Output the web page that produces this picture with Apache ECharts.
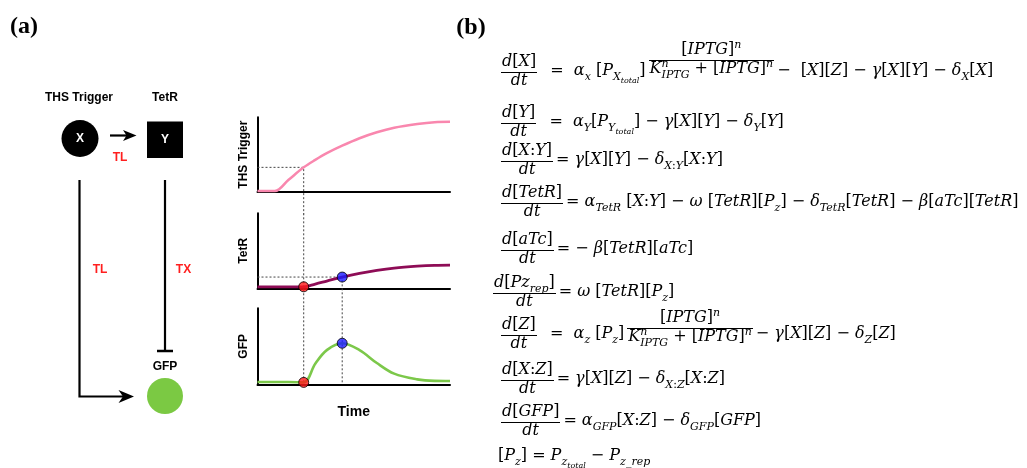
<!DOCTYPE html>
<html>
<head>
<meta charset="utf-8">
<script src="https://cdn.jsdelivr.net/npm/echarts@6.0.0/dist/echarts.min.js"></script>
<style>
  html, body { margin: 0; padding: 0; background: #fff; }
  #main { width: 1027px; height: 468px; }
</style>
</head>
<body>
<div id="main"></div>
<script>
// time course data (arbitrary units)
var timePoints = [0, 9, 16, 24, 30, 36, 44, 53, 62, 71, 83, 92, 100];
var thsLevel = [0.013, 0.013, 0.16, 0.33, 0.43, 0.52, 0.62, 0.72, 0.80, 0.86, 0.91, 0.935, 0.94];
var tetrLevel = [0.02, 0.02, 0.02, 0.02, 0.057, 0.097, 0.15, 0.20, 0.24, 0.27, 0.295, 0.307, 0.31];
var gfpLevel = [0.03, 0.03, 0.03, 0.025, 0.27, 0.45, 0.54, 0.45, 0.28, 0.14, 0.065, 0.045, 0.043];
var panelNames = ['THS Trigger', 'TetR', 'GFP'];
var onsetIdx = 3;   // red dots
var peakIdx = 6;    // blue dots

// model equations, left side fraction + right side pieces
var equations = [
  [['d[X]', 'dt'], '  =  α_x [P_{X_{total}}]', ['[IPTG]^n', 'K^n_{IPTG} + [IPTG]^n'], '−  [X][Z] − γ[X][Y] − δ_X[X]'],
  [['d[Y]', 'dt'], '  =  α_Y[P_{Y_{total}}] − γ[X][Y] − δ_Y[Y]'],
  [['d[X:Y]', 'dt'], '= γ[X][Y] − δ_{X:Y}[X:Y]'],
  [['d[TetR]', 'dt'], '= α_{TetR} [X:Y] − ω [TetR][P_z] − δ_{TetR}[TetR] − β[aTc][TetR]'],
  [['d[aTc]', 'dt'], '= − β[TetR][aTc]'],
  [['d[Pz_{rep}]', 'dt'], '= ω [TetR][P_z]'],
  [['d[Z]', 'dt'], '  =  α_z [P_z]', ['[IPTG]^n', 'K^n_{IPTG} + [IPTG]^n'], '− γ[X][Z] − δ_Z[Z]'],
  [['d[X:Z]', 'dt'], '= γ[X][Z] − δ_{X:Z}[X:Z]'],
  [['d[GFP]', 'dt'], '= α_{GFP}[X:Z] − δ_{GFP}[GFP]'],
  ['[P_z] = P_{z_{total}} − P_{z\\_rep}']
];
var eqAxisY = [72, 123, 161, 203, 250, 293, 335, 380, 422, 457];
var eqLeftX = [501, 501, 501, 501, 501, 493, 501, 501, 501, 498];
var fracRaise = { 0: 12, 6: 7 };

var MATH_FONT = '"DejaVu Serif", "Liberation Serif", serif';
var SANS = '"Liberation Sans", Arial, sans-serif';
var MAIN_SIZE = 16;

var ctx = document.createElement('canvas').getContext('2d');
function measure(text, size, italic) {
  ctx.font = (italic ? 'italic ' : '') + size + 'px ' + MATH_FONT;
  return ctx.measureText(text).width;
}
function isItalic(c) { return /[A-Za-z\u03b1-\u03c9\u0391-\u03a9]/.test(c); }

// lay out a tiny TeX-like string into runs {text,size,italic,x,dy}
function layoutMath(s, size, dy, x, out) {
  var i = 0;
  while (i < s.length) {
    var c = s[i];
    if (c === '_' || c === '^') {
      var start = x, maxX = x;
      while (i < s.length && (s[i] === '_' || s[i] === '^')) {
        var sub = s[i] === '_', arg;
        if (s[i + 1] === '{') {
          var depth = 1, j = i + 2;
          while (depth) { if (s[j] === '{') depth++; else if (s[j] === '}') depth--; j++; }
          arg = s.slice(i + 2, j - 1); i = j;
        } else { arg = s[i + 1]; i += 2; }
        var ns = Math.round(size * 0.7);
        var ex = layoutMath(arg, ns, dy + (sub ? size * 0.28 : -size * 0.42), start, out);
        maxX = Math.max(maxX, ex);
      }
      x = maxX;
      continue;
    }
    var text = '', it = isItalic(c === '\\' ? s[i + 1] : c);
    while (i < s.length && s[i] !== '_' && s[i] !== '^') {
      var ch = s[i];
      if (ch === '\\') { ch = s[i + 1]; if (isItalic(ch) !== it) break; text += ch; i += 2; continue; }
      if (isItalic(ch) !== it) break;
      text += ch; i++;
    }
    out.push({ text: text, size: size, italic: it, x: x, dy: dy });
    x += measure(text, size, it);
  }
  return x;
}

function runEl(run, x0, baseline) {
  return {
    type: 'text', silent: true,
    x: x0 + run.x, y: baseline + run.dy - 0.34 * run.size,
    style: {
      text: run.text, fontSize: run.size, fontStyle: run.italic ? 'italic' : 'normal',
      fontFamily: MATH_FONT, fill: '#000', align: 'left', verticalAlign: 'middle'
    }
  };
}

function buildEquations() {
  var els = [];
  equations.forEach(function (row, r) {
    var x = eqLeftX[r];
    var axisY = eqAxisY[r];
    var base = axisY + 4.5;
    row.forEach(function (part, p) {
      if (typeof part === 'string') {
        var runs = [];
        var end = layoutMath(part, MAIN_SIZE, 0, 0, runs);
        runs.forEach(function (rn) { els.push(runEl(rn, x, base)); });
        x += end;
      } else {
        var lhs = p === 0;
        var barY = Math.round(axisY - (lhs ? 0 : (fracRaise[r] || 0))) + 0.5;
        var numRuns = [], denRuns = [];
        var nw = layoutMath(part[0], MAIN_SIZE, 0, 0, numRuns);
        var dw = layoutMath(part[1], MAIN_SIZE, 0, 0, denRuns);
        var w = Math.max(nw, dw) + 2;
        if (!lhs) x += 3;
        numRuns.forEach(function (rn) { els.push(runEl(rn, x + (w - nw) / 2, barY - 5)); });
        denRuns.forEach(function (rn) { els.push(runEl(rn, x + (w - dw) / 2, barY + 14)); });
        els.push({ type: 'line', silent: true, shape: { x1: Math.round(x), y1: barY, x2: Math.round(x + w), y2: barY }, style: { stroke: '#000', lineWidth: 1 } });
        x += w + 3;
      }
    });
  });
  return els;
}

function label(text, x, y, size, color, family, weight) {
  return {
    type: 'text', silent: true, x: x, y: y,
    style: { text: text, fontSize: size, fontWeight: weight || 'bold', fontFamily: family || SANS, fill: color || '#000', align: 'center', verticalAlign: 'middle' }
  };
}

// schematic of panel (a)
var schematic = [
  label('(a)', 24, 27, 24, '#000', '"Liberation Serif", serif'),
  label('(b)', 471, 28, 24, '#000', '"Liberation Serif", serif'),
  label('THS Trigger', 79, 98, 12),
  label('TetR', 165, 98, 12),
  { type: 'circle', silent: true, shape: { cx: 80, cy: 138.5, r: 18.5 }, style: { fill: '#000' } },
  label('X', 80, 139, 12, '#fff'),
  { type: 'rect', silent: true, shape: { x: 147, y: 121.5, width: 36, height: 36.5 }, style: { fill: '#000' } },
  label('Y', 165, 140, 12, '#fff'),
  { type: 'line', silent: true, shape: { x1: 110, y1: 135.5, x2: 128, y2: 135.5 }, style: { stroke: '#000', lineWidth: 2.2 } },
  { type: 'polygon', silent: true, shape: { points: [[136.5, 135.5], [123, 130], [126.5, 135.5], [123, 141]] }, style: { fill: '#000' } },
  label('TL', 120, 157.5, 12, '#ff1f1f'),
  { type: 'polyline', silent: true, shape: { points: [[79.5, 180], [79.5, 396.5], [126, 396.5]] }, style: { stroke: '#000', lineWidth: 2.2, fill: null } },
  { type: 'polygon', silent: true, shape: { points: [[134, 396.5], [118.5, 390], [123, 396.5], [118.5, 403]] }, style: { fill: '#000' } },
  label('TL', 100, 269.5, 12, '#ff1f1f'),
  { type: 'line', silent: true, shape: { x1: 165, y1: 180, x2: 165, y2: 351 }, style: { stroke: '#000', lineWidth: 2.2 } },
  { type: 'line', silent: true, shape: { x1: 157, y1: 351, x2: 173, y2: 351 }, style: { stroke: '#000', lineWidth: 2.5 } },
  label('TX', 183.5, 269.5, 12, '#ff1f1f'),
  label('GFP', 165, 367, 12),
  { type: 'circle', silent: true, shape: { cx: 165, cy: 396, r: 18 }, style: { fill: '#7bc943' } }
];

function pairs(xs, ys) { return xs.map(function (t, i) { return [t, ys[i]]; }); }

var grids = [
  { left: 257.5, width: 192.5, top: 117.3, height: 74.7 },
  { left: 257.5, width: 192.5, top: 213.3, height: 75 },
  { left: 257.5, width: 192.5, top: 308.3, height: 76 }
];

var tOn = timePoints[onsetIdx], tPk = timePoints[peakIdx];
var dotted = { color: '#444', width: 1, type: [2, 2] };
function guide(i, pts) {
  return { type: 'line', xAxisIndex: i, yAxisIndex: i, data: pts, symbol: 'none', silent: true, clip: false, z: 1, lineStyle: dotted };
}
function curve(i, ys, color, width) {
  return { type: 'line', xAxisIndex: i, yAxisIndex: i, data: pairs(timePoints, ys), symbol: 'none', smooth: 0.35, silent: true, z: 3, lineStyle: { color: color, width: width } };
}
function dots(i, ys) {
  return {
    type: 'scatter', xAxisIndex: i, yAxisIndex: i, symbolSize: 10, z: 5, silent: true,
    data: [
      { value: [tOn, ys[onsetIdx]], itemStyle: { color: '#ff1a1a', borderColor: '#000', borderWidth: 1 } },
      { value: [tPk, ys[peakIdx]], itemStyle: { color: '#1a1aff', borderColor: '#000', borderWidth: 1 } }
    ]
  };
}

var chart = echarts.init(document.getElementById('main'));
var option = {
  animation: false,
  backgroundColor: '#fff',
  grid: grids,
  xAxis: grids.map(function (g, i) {
    return {
      type: 'value', gridIndex: i, min: 0, max: 100,
      name: i === 2 ? 'Time' : '', nameLocation: 'middle', nameGap: 21,
      nameTextStyle: { fontFamily: SANS, fontWeight: 'bold', fontSize: 14, color: '#000' },
      axisLine: { lineStyle: { color: '#000', width: 2 } },
      axisTick: { show: false }, axisLabel: { show: false }, splitLine: { show: false }
    };
  }),
  yAxis: grids.map(function (g, i) {
    return {
      type: 'value', gridIndex: i, min: 0, max: 1,
      name: panelNames[i], nameLocation: 'middle', nameGap: 8,
      nameTextStyle: { fontFamily: SANS, fontWeight: 'bold', fontSize: 12, color: '#000' },
      axisLine: { show: true, lineStyle: { color: '#000', width: 2 } },
      axisTick: { show: false }, axisLabel: { show: false }, splitLine: { show: false }
    };
  }),
  series: [
    guide(0, [[0, thsLevel[onsetIdx]], [tOn, thsLevel[onsetIdx]], [tOn, -0.3]]),
    guide(1, [[tOn, 1], [tOn, -0.27]]),
    guide(1, [[0, tetrLevel[peakIdx]], [tPk, tetrLevel[peakIdx]], [tPk, -0.27]]),
    guide(2, [[tOn, 1], [tOn, 0]]),
    guide(2, [[tPk, 1], [tPk, 0]]),
    curve(0, thsLevel, '#f987ae', 2.5),
    curve(1, tetrLevel, '#8e0c56', 2.8),
    curve(2, gfpLevel, '#7cc84a', 2.6),
    dots(1, tetrLevel),
    dots(2, gfpLevel)
  ],
  graphic: schematic.concat(buildEquations())
};
chart.setOption(option);
</script>
</body>
</html>
